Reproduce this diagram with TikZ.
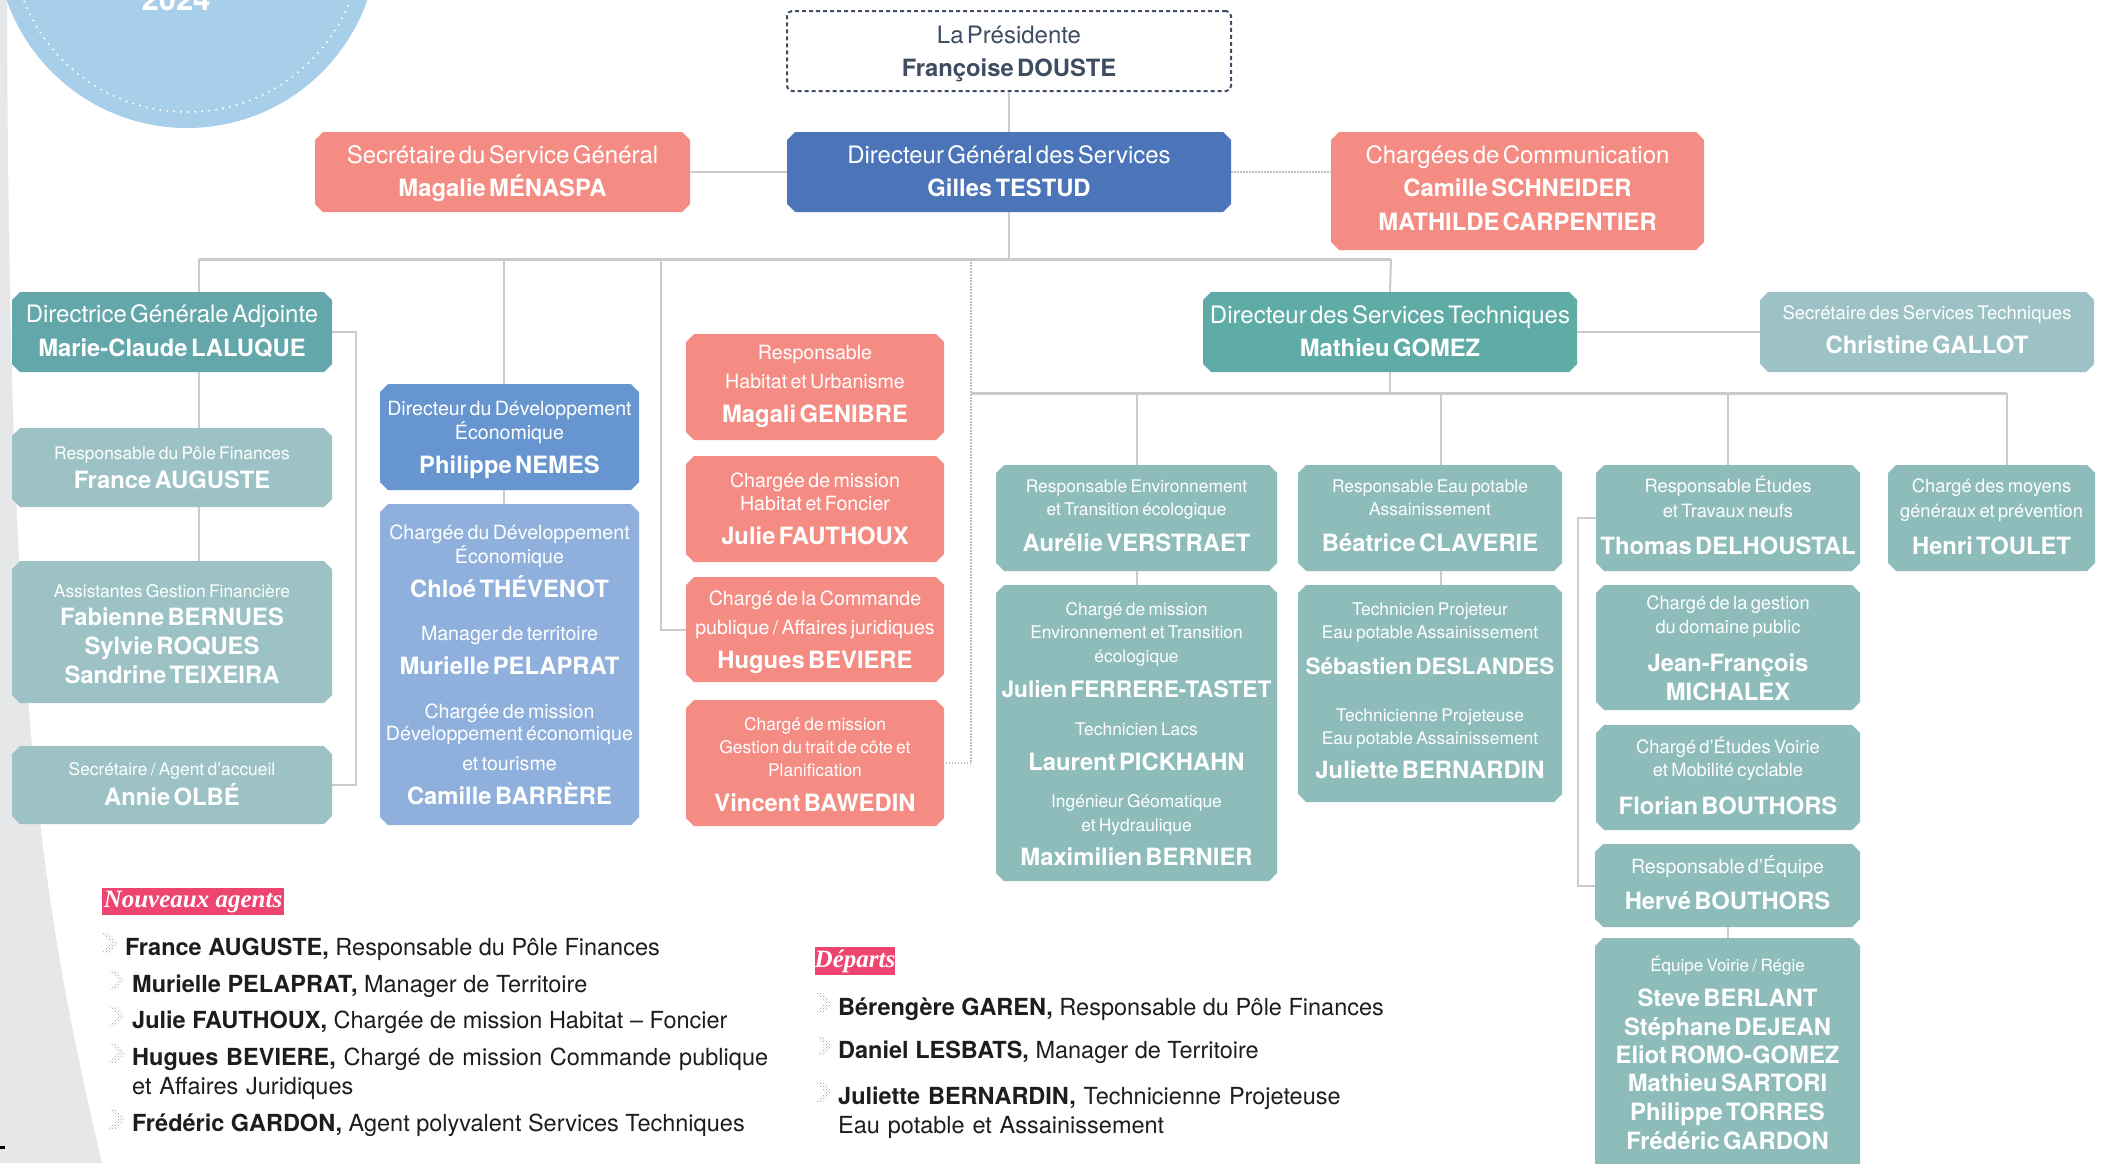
\documentclass[tikz,border=0pt]{standalone}
\usepackage{fontspec}
\setmainfont{TeX Gyre Heros}
\newfontfamily\labelfont{Liberation Serif}
\usetikzlibrary{shapes.misc,patterns}
\definecolor{salmon}{HTML}{F48C84}
\definecolor{dgsblue}{HTML}{4B74B9}
\definecolor{midblue}{HTML}{6795CF}
\definecolor{lightblue}{HTML}{8FB0DC}
\definecolor{tealdark}{HTML}{63A7AB}
\definecolor{tealdst}{HTML}{5FABA6}
\definecolor{tealgray}{HTML}{9CC2C5}
\definecolor{tealmid}{HTML}{8DBCBB}
\definecolor{pinklab}{HTML}{EE4570}
\definecolor{circblue}{HTML}{A8CFE9}
\definecolor{pagegray}{HTML}{E6E7E8}
\definecolor{linegray}{HTML}{CBCBCB}
\definecolor{presink}{HTML}{3E4D62}
\definecolor{inkblack}{HTML}{1D1D1B}
\newcommand\xF[2]{\makebox[0pt]{\fontsize{#1}{0}\selectfont #2}}
\newcommand\xB[2]{\makebox[0pt]{\bfseries\fontsize{#1}{0}\selectfont #2}}
\newcommand\xT[1]{\xF{24}{#1}}
\newcommand\xN[1]{\xB{23.8}{#1}}
\newcommand\xS[1]{\xF{19.6}{#1}}
\newcommand\xM[1]{\xF{17.4}{#1}}
\newcommand\xD[1]{\xF{18.3}{#1}}
\newcommand\orgbox[8]{%
  \pgfmathsetmacro\obw{#5-#3}%
  \pgfmathsetmacro\obh{#6-#4}%
  \pgfmathsetmacro\obd{#4+#6-2*#7}%
  \pgfmathsetmacro\obx{(#3+#5)/2}%
  \pgfmathsetmacro\oby{(#4+#6)/2}%
  \node[#2, minimum width=\obw pt, minimum height=\obh pt,
        text height=0pt, text depth=\obd pt] (#1) at (\obx,\oby) {#8};}
\newcommand\bul[2]{%
  \fill[bullet] (#1,#2-10) -- ++(7,0) -- ++(9,10) -- ++(-9,10) -- ++(-7,0) -- ++(9,-10) -- cycle;}
\tikzset{
  obase/.style={inner xsep=3pt, inner ysep=0pt, align=center, text width=100pt, text=white,
    execute at begin node={\setlength{\baselineskip}{0pt}\lineskiplimit=-1000pt\relax}},
  obox/.style={obase, chamfered rectangle, chamfered rectangle xsep=4pt,
    chamfered rectangle ysep=4pt, fill=#1, draw=none},
  pbox/.style={obase, rectangle, rounded corners=5pt, draw=presink, line width=2pt,
    dash pattern=on 4pt off 3pt, fill=white, text=presink},
  conn/.style={draw=linegray, line width=2pt},
  bus/.style={draw=linegray, line width=3pt},
  dotline/.style={draw=gray!50, line width=2pt, dash pattern=on 1.5pt off 1.5pt},
  tag/.style={fill=pinklab, text=white, inner sep=0pt,
    font=\labelfont\bfseries\itshape\fontsize{25}{0}\selectfont},
  item/.style={anchor=base west, inner sep=0pt, text=inkblack,
    font=\fontsize{23.5}{0}\selectfont},
  item2/.style={item, text width=700pt, align=left,
    execute at begin node={\setlength{\baselineskip}{0pt}\lineskiplimit=-1000pt\relax}},
  bullet/.style={pattern=crosshatch dots, pattern color=gray!75},
}
\begin{document}
\begin{tikzpicture}[x=1pt,y=-1pt]
\useasboundingbox (0,0) rectangle (2103,1163);
\clip (0,0) rectangle (2103,1163);
\fill[white] (0,0) rectangle (2103,1163);
\fill[pagegray] (0,0) -- (7,0) .. controls (9,700) and (40,900) .. (102,1163) -- (0,1163) -- cycle;
\fill[black] (0,1146) rectangle (5,1149);
% year badge
\fill[circblue] (187,-63) circle (191pt);
\draw[white, line width=2.2pt, line cap=round, dash pattern=on 0pt off 7pt] (187,-63) circle (175pt);
\node[font=\bfseries\fontsize{31}{0}\selectfont, text=white, anchor=base, inner sep=0pt] (year) at (176,10) {2024};

% boxes
\orgbox{pres}{pbox}{787}{11}{1231}{91}{43}{\xT{La Présidente}\\[33pt]\xN{Françoise DOUSTE}}
\orgbox{dgs}{obox=dgsblue}{787}{132}{1231}{212}{163}{\xT{Directeur Général des Services}\\[33pt]\xN{Gilles TESTUD}}
\orgbox{ssg}{obox=salmon}{315}{132}{690}{212}{163}{\xT{Secrétaire du Service Général}\\[33pt]\xN{Magalie MÉNASPA}}
\orgbox{com}{obox=salmon}{1331}{132}{1704}{250}{163}{\xT{Chargées de Communication}\\[33pt]\xN{Camille SCHNEIDER}\\[34pt]\xN{MATHILDE CARPENTIER}}
\orgbox{dga}{obox=tealdark}{12}{292}{332}{372}{322}{\xT{Directrice Générale Adjointe}\\[34pt]\xN{Marie-Claude LALUQUE}}
\orgbox{fin}{obox=tealgray}{12}{428}{332}{507}{459}{\xM{Responsable du Pôle Finances}\\[29pt]\xN{France AUGUSTE}}
\orgbox{ass}{obox=tealgray}{12}{561}{332}{703}{597}{\xM{Assistantes Gestion Financière}\\[28pt]\xN{Fabienne BERNUES}\\[29pt]\xN{Sylvie ROQUES}\\[29pt]\xN{Sandrine TEIXEIRA}}
\orgbox{olbe}{obox=tealgray}{12}{746}{332}{824}{775}{\xM{Secrétaire / Agent d’accueil}\\[30pt]\xN{Annie OLBÉ}}
\orgbox{dde}{obox=midblue}{380}{384}{639}{490}{415}{\xS{Directeur du Développement}\\[24pt]\xS{Économique}\\[34pt]\xN{Philippe NEMES}}
\orgbox{cde}{obox=lightblue}{380}{504}{639}{825}{539}{\xS{Chargée du Développement}\\[24pt]\xS{Économique}\\[34pt]\xN{Chloé THÉVENOT}\\[43pt]\xS{Manager de territoire}\\[34pt]\xN{Murielle PELAPRAT}\\[44pt]\xS{Chargée de mission}\\[22.5pt]\xS{Développement économique}\\[29.5pt]\xS{et tourisme}\\[34pt]\xN{Camille BARRÈRE}}
\orgbox{hab}{obox=salmon}{686}{334}{944}{440}{359}{\xS{Responsable}\\[29pt]\xS{Habitat et Urbanisme}\\[34pt]\xN{Magali GENIBRE}}
\orgbox{hf}{obox=salmon}{686}{456}{944}{562}{487}{\xS{Chargée de mission}\\[23pt]\xS{Habitat et Foncier}\\[34pt]\xN{Julie FAUTHOUX}}
\orgbox{cmd}{obox=salmon}{686}{577}{944}{682}{605}{\xS{Chargé de la Commande}\\[29pt]\xS{publique / Affaires juridiques}\\[34pt]\xN{Hugues BEVIERE}}
\orgbox{gtc}{obox=salmon}{686}{700}{944}{826}{730}{\xM{Chargé de mission}\\[23pt]\xM{Gestion du trait de côte et}\\[23pt]\xM{Planification}\\[35pt]\xN{Vincent BAWEDIN}}
\orgbox{env}{obox=tealmid}{996}{465}{1277}{571}{492}{\xM{Responsable Environnement}\\[23pt]\xM{et Transition écologique}\\[36pt]\xN{Aurélie VERSTRAET}}
\orgbox{cenv}{obox=tealmid}{996}{585}{1277}{881}{615}{\xM{Chargé de mission}\\[23pt]\xM{Environnement et Transition}\\[24pt]\xM{écologique}\\[35pt]\xB{22.7}{Julien FERRERE-TASTET}\\[38pt]\xM{Technicien Lacs}\\[35pt]\xN{Laurent PICKHAHN}\\[37pt]\xM{Ingénieur Géomatique}\\[24pt]\xM{et Hydraulique}\\[34pt]\xN{Maximilien BERNIER}}
\orgbox{dst}{obox=tealdst}{1203}{292}{1577}{372}{323}{\xT{Directeur des Services Techniques}\\[33pt]\xN{Mathieu GOMEZ}}
\orgbox{sst}{obox=tealgray}{1760}{292}{2094}{372}{319}{\xF{18.5}{Secrétaire des Services Techniques}\\[34pt]\xN{Christine GALLOT}}
\orgbox{eau}{obox=tealmid}{1298}{465}{1562}{571}{492}{\xM{Responsable Eau potable}\\[23pt]\xM{Assainissement}\\[36pt]\xN{Béatrice CLAVERIE}}
\orgbox{tech}{obox=tealmid}{1298}{585}{1562}{802}{615}{\xM{Technicien Projeteur}\\[23pt]\xM{Eau potable Assainissement}\\[36pt]\xB{22.5}{Sébastien DESLANDES}\\[47pt]\xM{Technicienne Projeteuse}\\[23pt]\xM{Eau potable Assainissement}\\[34pt]\xN{Juliette BERNARDIN}}
\orgbox{etu}{obox=tealmid}{1596}{465}{1860}{571}{492.5}{\xD{Responsable Études}\\[25pt]\xD{et Travaux neufs}\\[36.5pt]\xN{Thomas DELHOUSTAL}}
\orgbox{dom}{obox=tealmid}{1596}{585}{1860}{710}{609.5}{\xD{Chargé de la gestion}\\[24pt]\xD{du domaine public}\\[37.5pt]\xN{Jean-François}\\[29pt]\xN{MICHALEX}}
\orgbox{voi}{obox=tealmid}{1596}{725}{1860}{830}{753}{\xD{Chargé d’Études Voirie}\\[23.5pt]\xD{et Mobilité cyclable}\\[37.5pt]\xN{Florian BOUTHORS}}
\orgbox{moy}{obox=tealmid}{1888}{465}{2095}{571}{492.5}{\xD{Chargé des moyens}\\[25pt]\xD{généraux et prévention}\\[36.5pt]\xN{Henri TOULET}}
\orgbox{equ}{obox=tealmid}{1595}{844}{1860}{927}{873}{\xF{19.5}{Responsable d’Équipe}\\[36pt]\xN{Hervé BOUTHORS}}
\orgbox{reg}{obox=tealmid}{1595}{938}{1860}{1180}{971}{\xF{17}{Équipe Voirie / Régie}\\[35pt]\xN{Steve BERLANT}\\[29pt]\xN{Stéphane DEJEAN}\\[28pt]\xN{Eliot ROMO-GOMEZ}\\[28pt]\xN{Mathieu SARTORI}\\[29pt]\xN{Philippe TORRES}\\[29pt]\xN{Frédéric GARDON}}

% connectors
\coordinate (b1w) at (199,259);
\coordinate (b1d) at (504,259);
\coordinate (b1h) at (661,259);
\coordinate (b1v) at (971,259);
\coordinate (b1e) at (1391,259);
\coordinate (b2w) at (971,393);
\coordinate (b2e) at (2007,393);
\coordinate (b2eau) at (1441,393);
\draw[bus] (b1w) -- (b1e);
\draw[bus] (b2w) -- (b2e);
\draw[conn] (pres.south) -- (dgs.north);
\draw[conn] (dgs.south) -- (dgs.south |- b1e);
\draw[conn] (ssg.east) -- (dgs.west);
\draw[dotline] (dgs.east) -- (dgs.east -| com.west);
\draw[conn] (b1w) -- (b1w |- dga.north);
\draw[conn] (b1w |- dga.south) -- (b1w |- fin.north);
\draw[conn] (b1w |- fin.south) -- (b1w |- ass.north);
\draw[conn] (dga.east) -- ++(24,0) |- (olbe.east);
\draw[conn] (b1d) -- (b1d |- dde.north);
\draw[conn] (b1d |- dde.south) -- (b1d |- cde.north);
\draw[conn] (b1h) |- (cmd.west);
\draw[dotline] (b1v) |- (gtc.east);
\draw[conn] (b1e) -- (dst.north);
\draw[conn] (dst.east) -- (sst.west);
\draw[conn] (dst.south) -- (dst.south |- b2e);
\draw[conn] (env.north |- b2w) -- (env.north);
\draw[conn] (env.south) -- (cenv.north);
\draw[conn] (b2eau) -- (b2eau |- eau.north);
\draw[conn] (b2eau |- eau.south) -- (b2eau |- tech.north);
\draw[conn] (etu.north |- b2w) -- (etu.north);
\draw[conn] (b2e) -- (b2e |- moy.north);
\draw[conn] (etu.west) -- ++(-18,0) |- (equ.west);
\draw[conn] (equ.south) -- (reg.north);

% legends
\node[tag, minimum width=182pt, minimum height=27pt] (nouv) at (193,901.5) {Nouveaux agents};
\node[tag, minimum width=80pt, minimum height=28pt] (dep) at (855,961) {Départs};
\bul{102}{943}\bul{109}{980}\bul{109}{1016}\bul{109}{1053}\bul{109}{1119}
\bul{816}{1003}\bul{816}{1046}\bul{816}{1092}
\node[item] (n1) at (125,955) {\textbf{France AUGUSTE,} Responsable du Pôle Finances};
\node[item] (n2) at (132,992) {\textbf{Murielle PELAPRAT,} Manager de Territoire};
\node[item] (n3) at (132,1028) {\textbf{Julie FAUTHOUX,} Chargée de mission Habitat – Foncier};
\node[item2] (n4) at (132,1065) {\textbf{Hugues BEVIERE,} Chargé de mission Commande publique\\[29pt]et Affaires Juridiques};
\node[item] (n5) at (132,1131) {\textbf{Frédéric GARDON,} Agent polyvalent Services Techniques};
\node[item] (d1) at (838,1015) {\textbf{Bérengère GAREN,} Responsable du Pôle Finances};
\node[item] (d2) at (838,1058) {\textbf{Daniel LESBATS,} Manager de Territoire};
\node[item2] (d3) at (838,1104) {\textbf{Juliette BERNARDIN,} Technicienne Projeteuse\\[29pt]Eau potable et Assainissement};
\end{tikzpicture}
\end{document}
